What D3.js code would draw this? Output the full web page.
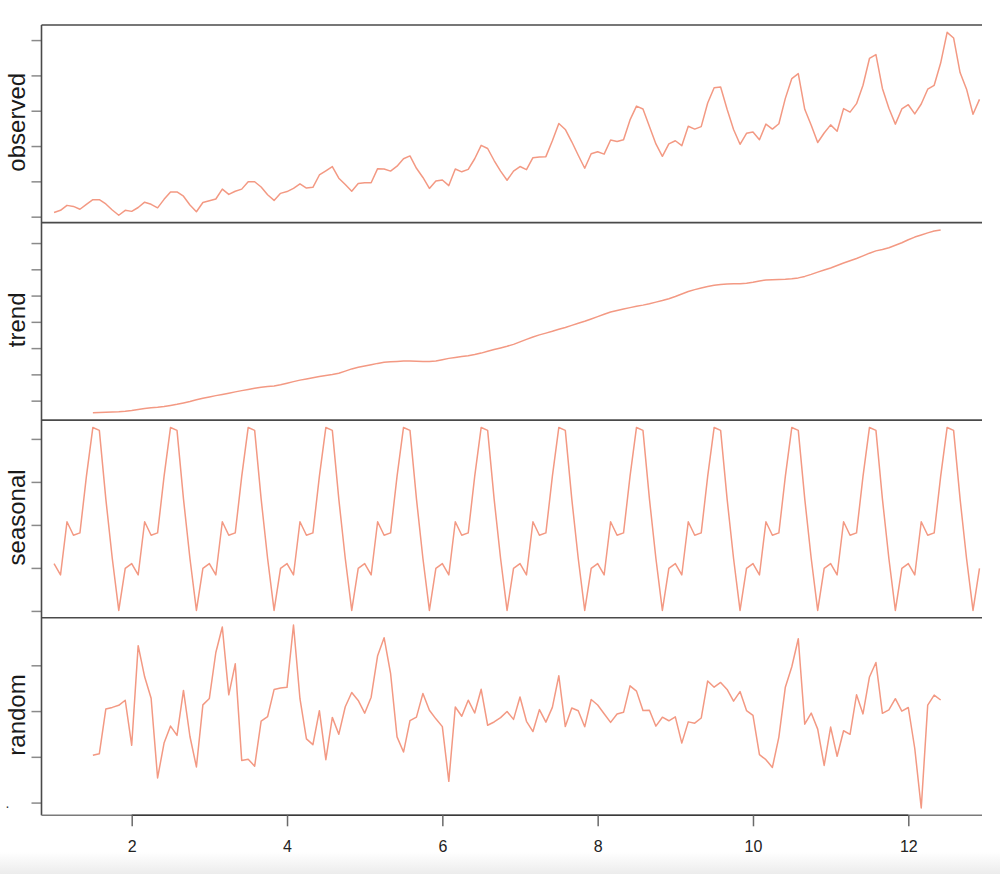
<!DOCTYPE html>
<html>
<head>
<meta charset="utf-8">
<script src="https://cdn.jsdelivr.net/npm/d3@7"></script>
<style>
  body { margin: 0; background: #fff; }
  svg { display: block; font-family: "Liberation Sans", Arial, sans-serif; }
</style>
</head>
<body>
<svg id="chart" width="1000" height="874"></svg>
<script>
// monthly series, start = 1, frequency = 12
const start = 1;
const frequency = 12;

const observed = [
  112, 118, 132, 129, 121, 135, 148, 148, 136, 119, 104, 118,
  115, 126, 141, 135, 125, 149, 170, 170, 158, 133, 114, 140,
  145, 150, 178, 163, 172, 178, 199, 199, 184, 162, 146, 166,
  171, 180, 193, 181, 183, 218, 230, 242, 209, 191, 172, 194,
  196, 196, 236, 235, 229, 243, 264, 272, 237, 211, 180, 201,
  204, 188, 235, 227, 234, 264, 302, 293, 259, 229, 203, 229,
  242, 233, 267, 269, 270, 315, 364, 347, 312, 274, 237, 278,
  284, 277, 317, 313, 318, 374, 413, 405, 355, 306, 271, 306,
  315, 301, 356, 348, 355, 422, 465, 467, 404, 347, 305, 336,
  340, 318, 362, 348, 363, 435, 491, 505, 404, 359, 310, 337,
  360, 342, 406, 396, 420, 472, 548, 559, 463, 407, 362, 405,
  417, 391, 419, 461, 472, 535, 622, 606, 508, 461, 390, 432
];

const trend = [
  null, null, null, null, null, null,
  126.792, 127.250, 127.958, 128.583, 129.000, 129.750,
  131.250, 133.083, 134.917, 136.417, 137.417, 138.750, 140.917, 143.167, 145.708, 148.417, 151.542, 154.708,
  157.125, 159.542, 161.833, 164.125, 166.667, 169.083, 171.250, 173.583, 175.458, 176.833, 178.042, 180.167,
  183.125, 186.208, 189.042, 191.292, 193.583, 195.833, 198.042, 199.750, 202.208, 206.250, 210.417, 213.375,
  215.833, 218.500, 220.917, 222.917, 224.083, 224.708, 225.333, 225.333, 224.958, 224.583, 224.458, 225.542,
  228.000, 230.458, 232.250, 233.917, 235.625, 237.750, 240.500, 243.958, 247.167, 250.250, 253.500, 257.125,
  261.833, 266.667, 271.125, 275.208, 278.500, 281.958, 285.750, 289.333, 293.250, 297.167, 301.000, 305.458,
  309.958, 314.417, 318.625, 321.750, 324.500, 327.083, 329.542, 331.833, 334.458, 337.542, 340.542, 344.083,
  348.250, 353.000, 357.625, 361.375, 364.500, 367.167, 369.458, 371.208, 372.167, 372.417, 372.750, 373.625,
  375.250, 377.917, 379.500, 380.000, 380.708, 380.958, 381.833, 383.667, 386.500, 390.333, 394.708, 398.625,
  402.542, 407.167, 411.875, 416.333, 420.500, 425.500, 430.708, 435.125, 437.708, 440.958, 445.833, 450.625,
  456.333, 461.375, 465.208, 469.333, 472.750, 475.042,
  null, null, null, null, null, null
];

const seasonal = [
  0.9102, 0.8836, 1.0074, 0.9759, 0.9814, 1.1128, 1.2266, 1.2199, 1.0605, 0.9218, 0.8012, 0.8988,
  0.9102, 0.8836, 1.0074, 0.9759, 0.9814, 1.1128, 1.2266, 1.2199, 1.0605, 0.9218, 0.8012, 0.8988,
  0.9102, 0.8836, 1.0074, 0.9759, 0.9814, 1.1128, 1.2266, 1.2199, 1.0605, 0.9218, 0.8012, 0.8988,
  0.9102, 0.8836, 1.0074, 0.9759, 0.9814, 1.1128, 1.2266, 1.2199, 1.0605, 0.9218, 0.8012, 0.8988,
  0.9102, 0.8836, 1.0074, 0.9759, 0.9814, 1.1128, 1.2266, 1.2199, 1.0605, 0.9218, 0.8012, 0.8988,
  0.9102, 0.8836, 1.0074, 0.9759, 0.9814, 1.1128, 1.2266, 1.2199, 1.0605, 0.9218, 0.8012, 0.8988,
  0.9102, 0.8836, 1.0074, 0.9759, 0.9814, 1.1128, 1.2266, 1.2199, 1.0605, 0.9218, 0.8012, 0.8988,
  0.9102, 0.8836, 1.0074, 0.9759, 0.9814, 1.1128, 1.2266, 1.2199, 1.0605, 0.9218, 0.8012, 0.8988,
  0.9102, 0.8836, 1.0074, 0.9759, 0.9814, 1.1128, 1.2266, 1.2199, 1.0605, 0.9218, 0.8012, 0.8988,
  0.9102, 0.8836, 1.0074, 0.9759, 0.9814, 1.1128, 1.2266, 1.2199, 1.0605, 0.9218, 0.8012, 0.8988,
  0.9102, 0.8836, 1.0074, 0.9759, 0.9814, 1.1128, 1.2266, 1.2199, 1.0605, 0.9218, 0.8012, 0.8988,
  0.9102, 0.8836, 1.0074, 0.9759, 0.9814, 1.1128, 1.2266, 1.2199, 1.0605, 0.9218, 0.8012, 0.8988
];

const random = [
  null, null, null, null, null, null,
  0.9517, 0.9534, 1.0022, 1.0040, 1.0063, 1.0118,
  0.9626, 1.0715, 1.0374, 1.0140, 0.9269, 0.9650, 0.9836, 0.9734, 1.0225, 0.9722, 0.9390, 1.0068,
  1.0138, 1.0640, 1.0919, 1.0177, 1.0516, 0.9460, 0.9474, 0.9398, 0.9889, 0.9939, 1.0235, 1.0251,
  1.0259, 1.0940, 1.0135, 0.9696, 0.9633, 1.0004, 0.9469, 0.9931, 0.9746, 1.0047, 1.0203, 1.0116,
  0.9977, 1.0152, 1.0605, 1.0802, 1.0413, 0.9718, 0.9552, 0.9895, 0.9934, 1.0193, 1.0009, 0.9915,
  0.9830, 0.9232, 1.0044, 0.9944, 1.0119, 0.9979, 1.0238, 0.9845, 0.9881, 0.9928, 0.9995, 0.9909,
  1.0154, 0.9888, 0.9776, 1.0016, 0.9879, 1.0040, 1.0386, 0.9831, 1.0033, 1.0003, 0.9828, 1.0126,
  1.0066, 0.9970, 0.9876, 0.9968, 0.9986, 1.0276, 1.0218, 1.0005, 1.0009, 0.9835, 0.9933, 0.9894,
  0.9937, 0.9650, 0.9882, 0.9868, 0.9924, 1.0329, 1.0261, 1.0313, 1.0236, 1.0108, 1.0213, 1.0005,
  0.9954, 0.9523, 0.9469, 0.9384, 0.9716, 1.0261, 1.0484, 1.0790, 0.9857, 0.9978, 0.9803, 0.9406,
  0.9825, 0.9506, 0.9785, 0.9746, 1.0178, 0.9969, 1.0373, 1.0531, 0.9975, 1.0013, 1.0135, 0.9999,
  1.0039, 0.9591, 0.8941, 1.0065, 1.0174, 1.0121,
  null, null, null, null, null, null
];

const panelNames = ["observed", "trend", "seasonal", "random"];
const yTicks = [
  [100, 200, 300, 400, 500, 600],
  [150, 200, 250, 300, 350, 400, 450],
  [0.8, 0.9, 1.0, 1.1, 1.2],
  [0.90, 0.95, 1.00, 1.05]
];
const xTicks = [2, 4, 6, 8, 10, 12];

// layout
const plotLeft = 41.5, plotRight = 982, plotTop = 25, plotBottom = 815.3;
const panelH = (plotBottom - plotTop) / 4;
const lineColor = "#f39983";
const boxColor = "#4a4a4a";

const svg = d3.select("#chart");

// soft grey band at the foot of the screenshot
const grad = svg.append("defs").append("linearGradient")
  .attr("id", "foot").attr("x1", 0).attr("y1", 0).attr("x2", 0).attr("y2", 1);
grad.append("stop").attr("offset", "0%").attr("stop-color", "#ffffff");
grad.append("stop").attr("offset", "100%").attr("stop-color", "#ececec");
svg.append("rect").attr("x", 0).attr("y", 852).attr("width", 1000).attr("height", 22)
  .attr("fill", "url(#foot)");

const time = observed.map((_, i) => start + i / frequency);

// x domain picked so that 2 and 12 land where the reference puts them
const x = d3.scaleLinear().domain([0.8385, 12.949]).range([plotLeft, plotRight]);

const series = [observed, trend, seasonal, random];

series.forEach((values, p) => {
  const y0 = plotTop + p * panelH;
  const y1 = y0 + panelH;
  const ext = d3.extent(values.filter(v => v != null));
  const pad = (ext[1] - ext[0]) * 0.04;
  const y = d3.scaleLinear().domain([ext[0] - pad, ext[1] + pad]).range([y1, y0]);

  const g = svg.append("g");

  const yAxis = g.append("g")
    .attr("transform", `translate(${plotLeft},0)`)
    .call(d3.axisLeft(y).tickValues(yTicks[p]).tickSize(10).tickSizeOuter(0).tickFormat(""));
  yAxis.select(".domain").remove();
  yAxis.selectAll(".tick line").attr("stroke", "#8a8a8a").attr("stroke-width", 1.5);

  const line = d3.line()
    .defined(d => d[1] != null)
    .x(d => x(d[0]))
    .y(d => y(d[1]));

  g.append("path")
    .datum(values.map((v, i) => [time[i], v]))
    .attr("fill", "none")
    .attr("stroke", lineColor)
    .attr("stroke-width", 1.5)
    .attr("stroke-linejoin", "round")
    .attr("d", line);

  g.append("text")
    .attr("transform", `translate(25,${(y0 + y1) / 2 - 1.5}) rotate(-90)`)
    .attr("text-anchor", "middle")
    .attr("font-size", 24)
    .attr("fill", "#1a1a1a")
    .text(panelNames[p]);

  // panel top edge
  svg.append("line")
    .attr("x1", plotLeft).attr("x2", plotRight)
    .attr("y1", y0).attr("y2", y0)
    .attr("stroke", boxColor).attr("stroke-width", 1.6);
});

// left edge and bottom edge
svg.append("line")
  .attr("x1", plotLeft).attr("x2", plotLeft).attr("y1", plotTop).attr("y2", plotBottom)
  .attr("stroke", boxColor).attr("stroke-width", 1.6);
svg.append("line")
  .attr("x1", plotLeft).attr("x2", plotRight).attr("y1", plotBottom).attr("y2", plotBottom)
  .attr("stroke", "#7a7a7a").attr("stroke-width", 1.6);

const xAxis = svg.append("g")
  .attr("transform", `translate(0,${plotBottom})`)
  .call(d3.axisBottom(x).tickValues(xTicks).tickSize(11).tickPadding(14).tickSizeOuter(0));
xAxis.select(".domain")
  .attr("d", `M${x(xTicks[0])},0H${x(xTicks[xTicks.length - 1])}`)
  .attr("stroke", "#3a3a3a").attr("stroke-width", 1.6);
xAxis.selectAll(".tick line").attr("stroke", "#6a6a6a").attr("stroke-width", 1.5);
xAxis.selectAll(".tick text")
  .attr("font-size", 16)
  .attr("fill", "#222")
  .attr("font-family", "Liberation Sans, Arial, sans-serif");

// remnant of a cropped tick label at the far left
svg.append("text").attr("x", 5.5).attr("y", 808).attr("font-size", 14).attr("fill", "#333").text(".");
</script>
</body>
</html>
